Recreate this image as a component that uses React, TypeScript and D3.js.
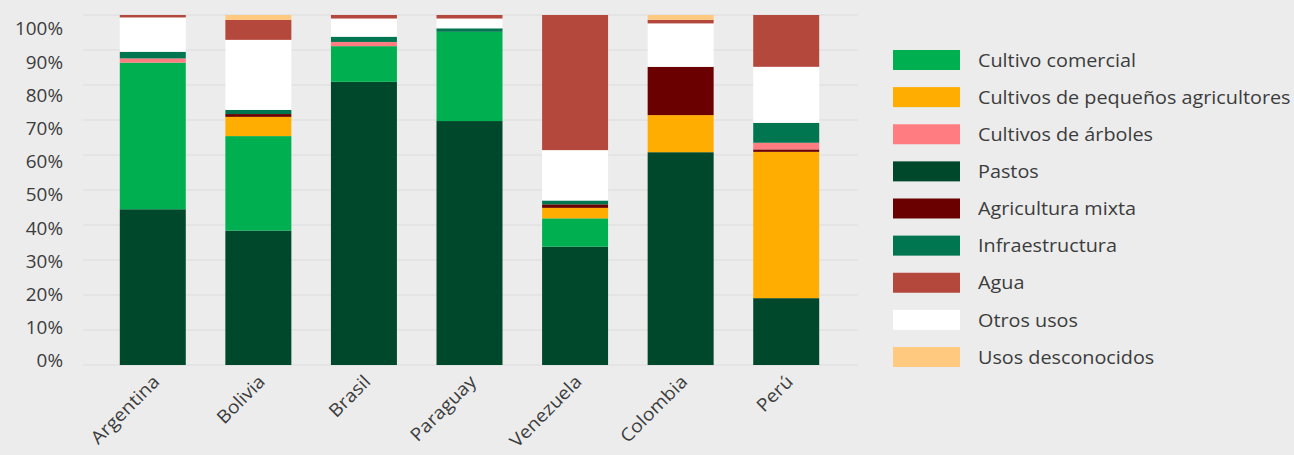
import React from "react";
import * as d3 from "d3";

const countries = ["Argentina", "Bolivia", "Brasil", "Paraguay", "Venezuela", "Colombia", "Perú"];

const seriesNames = [
  "Cultivo comercial",
  "Cultivos de pequeños agricultores",
  "Cultivos de árboles",
  "Pastos",
  "Agricultura mixta",
  "Infraestructura",
  "Agua",
  "Otros usos",
  "Usos desconocidos",
];

const cultivoComercial = [41.9, 27.0, 10.2, 25.5, 8.1, 0, 0];
const pequenosAgricultores = [0, 5.5, 0, 0, 3.0, 10.6, 41.8];
const arboles = [1.2, 0, 1.2, 0, 0, 0, 1.9];
const pastos = [44.5, 38.4, 80.9, 69.7, 33.8, 60.8, 19.1];
const agriculturaMixta = [0, 0.8, 0, 0, 1.0, 13.8, 0.7];
const infraestructura = [1.9, 1.2, 1.5, 1.0, 1.1, 0, 5.7];
const agua = [0.7, 5.7, 1.0, 1.0, 38.6, 1.0, 14.8];
const otrosUsos = [9.8, 20.0, 5.2, 2.8, 14.4, 12.4, 16.0];
const usosDesconocidos = [0, 1.4, 0, 0, 0, 1.4, 0];

const yTicks = [0, 10, 20, 30, 40, 50, 60, 70, 80, 90, 100];

const colors: Record<string, string> = {
  "Cultivo comercial": "#00b050",
  "Cultivos de pequeños agricultores": "#ffad00",
  "Cultivos de árboles": "#ff7c80",
  "Pastos": "#00482b",
  "Agricultura mixta": "#6b0000",
  "Infraestructura": "#007650",
  "Agua": "#b5483d",
  "Otros usos": "#ffffff",
  "Usos desconocidos": "#ffc97f",
};

// bottom-to-top stacking order
const stackOrder = [
  "Pastos",
  "Cultivo comercial",
  "Cultivos de pequeños agricultores",
  "Agricultura mixta",
  "Cultivos de árboles",
  "Infraestructura",
  "Otros usos",
  "Agua",
  "Usos desconocidos",
];

const valuesBySeries: Record<string, number[]> = {
  "Cultivo comercial": cultivoComercial,
  "Cultivos de pequeños agricultores": pequenosAgricultores,
  "Cultivos de árboles": arboles,
  "Pastos": pastos,
  "Agricultura mixta": agriculturaMixta,
  "Infraestructura": infraestructura,
  "Agua": agua,
  "Otros usos": otrosUsos,
  "Usos desconocidos": usosDesconocidos,
};

const W = 1294;
const H = 455;
const FONT = "'Open Sans', sans-serif";
const TEXT = "#3c3c3c";

export default function App() {
  const rows = countries.map((c, i) => {
    const r: Record<string, any> = { country: c };
    seriesNames.forEach((s) => (r[s] = valuesBySeries[s][i]));
    return r;
  });
  const stacked = d3.stack<any>().keys(stackOrder)(rows);

  const x = d3.scaleBand<string>().domain(countries).range([100, 839]).paddingInner(0.375).paddingOuter(0.1875);
  const y = d3.scaleLinear().domain([0, 100]).range([365, 15]);
  const yLabel = d3.scaleLinear().domain([0, 100]).range([360, 28]);

  const legendY = d3.scalePoint<string>().domain(seriesNames).range([60, 357]);

  return (
    <svg width={W} height={H} style={{ position: "absolute", left: 0, top: 0, background: "#ececec" }}>
      <rect x={0} y={0} width={W} height={H} fill="#ececec" />
      {yTicks.map((t) => (
        <line key={"g" + t} x1={83} x2={858} y1={y(t)} y2={y(t)} stroke="#dcdcdc" strokeWidth={1} />
      ))}
      {yTicks.map((t) => (
        <text
          key={"l" + t}
          transform={`translate(63,${yLabel(t)}) scale(1.05,1)`}
          textAnchor="end"
          dominantBaseline="central"
          fontFamily={FONT}
          fontSize={18}
          fill={TEXT}
        >
          {t}%
        </text>
      ))}
      {stacked.map((layer) => (
        <g key={layer.key} fill={colors[layer.key]}>
          {layer.map((d, i) => {
            const h = y(d[0]) - y(d[1]);
            if (h <= 0) return null;
            return (
              <rect key={i} x={x(countries[i])} y={y(d[1])} width={x.bandwidth()} height={h} />
            );
          })}
        </g>
      ))}
      {countries.map((c) => {
        const cx = (x(c) as number) + x.bandwidth() / 2;
        return (
          <text
            key={c}
            transform={`translate(${cx - 3},${372}) rotate(-45) scale(1.08,1)`}
            textAnchor="end"
            dominantBaseline="hanging"
            fontFamily={FONT}
            fontSize={18}
            fill={TEXT}
          >
            {c}
          </text>
        );
      })}
      {seriesNames.map((s) => (
        <g key={s} transform={`translate(893,${legendY(s)})`}>
          <rect x={0} y={-10} width={67} height={20} fill={colors[s]} />
          <text
            transform="translate(85,0) scale(1.1,1)"
            dominantBaseline="central"
            fontFamily={FONT}
            fontSize={18}
            fill={TEXT}
          >
            {s}
          </text>
        </g>
      ))}
    </svg>
  );
}
